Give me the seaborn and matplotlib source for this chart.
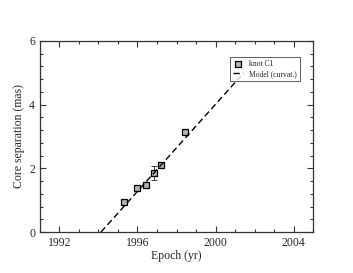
import numpy as np
import pandas as pd
import matplotlib
matplotlib.use("Agg")
import matplotlib.pyplot as plt
import seaborn as sns
from matplotlib.ticker import MultipleLocator

# knot C1 positions
epoch = [1995.31, 1995.99, 1996.42, 1996.85, 1997.22, 1998.44]
sep = [0.94, 1.37, 1.47, 1.85, 2.09, 3.13]
sep_err = [0.05, 0.05, 0.05, 0.22, 0.05, 0.05]

# model line (curvature fit), straight over this span
model_epoch = [1994.13, 2001.3]
model_sep = [0.0, 4.9]

sns.set_style("ticks")
plt.rcParams['font.family'] = ['Liberation Serif', 'DejaVu Serif']

df = pd.DataFrame({'epoch': epoch, 'sep': sep})
df_model = pd.DataFrame({'epoch': model_epoch, 'sep': model_sep})

fig = plt.figure(figsize=(3.53, 2.73), dpi=100)
ax = fig.add_axes([0.113, 0.150, 0.774, 0.700])

ax.errorbar(epoch, sep, yerr=sep_err, fmt='none', ecolor='#444444',
            elinewidth=0.7, capsize=2, capthick=0.7, zorder=2)
sns.scatterplot(data=df, x='epoch', y='sep', marker='s', s=22,
                color='#b4b4b4', edgecolor='black', linewidth=0.9,
                label='knot C1', ax=ax, zorder=3)
sns.lineplot(data=df_model, x='epoch', y='sep', color='black',
             linestyle=(0, (4.5, 2.5)), linewidth=1.0,
             label='Model (curvat.)', ax=ax, zorder=4)

ax.set_xlim(1991, 2005)
ax.set_ylim(0, 6)
ax.xaxis.set_major_locator(MultipleLocator(4))
ax.xaxis.set_minor_locator(MultipleLocator(1))
ax.yaxis.set_major_locator(MultipleLocator(2))
ax.yaxis.set_minor_locator(MultipleLocator(0.4))
ax.tick_params(which='both', direction='in', top=True, right=True,
               labelsize=8.5, width=0.8, color='#333333')
ax.tick_params(which='major', length=4)
ax.tick_params(which='minor', length=2.5)
for s in ax.spines.values():
    s.set_linewidth(0.9)
    s.set_color('#333333')

ax.set_xlabel('Epoch (yr)', fontsize=8.5, labelpad=1)
ax.set_ylabel('Core separation (mas)', fontsize=8.5, labelpad=3)

leg = ax.legend(loc='upper right', bbox_to_anchor=(0.965, 0.935),
                fontsize=5.5, frameon=True, fancybox=False,
                edgecolor='#333333', handlelength=1.3, handletextpad=0.8,
                borderpad=0.4, labelspacing=0.2, markerscale=0.9)
leg.get_frame().set_linewidth(0.7)
leg.set_zorder(10)

fig.savefig('out.png', dpi=100)
